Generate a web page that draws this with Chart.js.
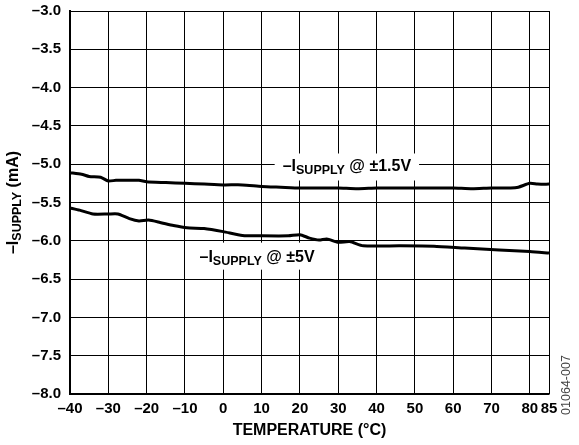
<!DOCTYPE html>
<html>
<head>
<meta charset="utf-8">
<script src="https://cdn.jsdelivr.net/npm/chart.js@4.4.0/dist/chart.umd.min.js"></script>
<style>
  body { margin: 0; background: #fff; }
  #wrap { width: 579px; height: 445px; position: relative; }
</style>
</head>
<body>
<div id="wrap"><canvas id="myChart"></canvas></div>
<script>
// temperatures (°C) and supply current (mA)
var temps15 = [-40, -37, -35, -32, -30, -28, -25, -22, -20, -15, -10, -5, 0, 5, 10, 15, 20, 25, 30, 35, 40, 45, 50, 55, 60, 65, 70, 75, 77, 80, 82, 85];
var isupply15 = [-5.11, -5.13, -5.16, -5.17, -5.22, -5.21, -5.21, -5.21, -5.23, -5.24, -5.25, -5.26, -5.27, -5.27, -5.29, -5.30, -5.31, -5.31, -5.31, -5.32, -5.31, -5.31, -5.31, -5.31, -5.31, -5.32, -5.31, -5.31, -5.30, -5.25, -5.26, -5.26];

var temps5 = [-40, -37.5, -34, -30, -27.5, -24.5, -22, -19.5, -16.5, -13, -9.5, -5, 0, 5, 10, 17, 20, 22.5, 25, 27, 30, 33, 36.5, 46, 55, 63, 72, 80, 85];
var isupply5 = [-5.57, -5.60, -5.65, -5.65, -5.65, -5.71, -5.74, -5.73, -5.76, -5.80, -5.83, -5.84, -5.88, -5.93, -5.935, -5.935, -5.92, -5.965, -5.99, -5.975, -6.02, -6.01, -6.065, -6.065, -6.07, -6.095, -6.12, -6.14, -6.16];

var xTicks = [-40, -30, -20, -10, 0, 10, 20, 30, 40, 50, 60, 70, 80, 85];
var yTicks = [-8.0, -7.5, -7.0, -6.5, -6.0, -5.5, -5.0, -4.5, -4.0, -3.5, -3.0];

var FONT = '"Liberation Sans", Arial, Helvetica, sans-serif';

function pts(xs, ys) {
    return xs.map(function (x, i) { return { x: x, y: ys[i] }; });
}

// draws text made of parts, some of them as subscript
function drawParts(ctx, parts, x, y) {
    parts.forEach(function (p) {
        ctx.font = p.sub ? 'bold 12.5px ' + FONT : 'bold 16px ' + FONT;
        ctx.fillText(p.t, x, y + (p.sub ? 4 : 0));
        x += ctx.measureText(p.t).width;
    });
}
function partsWidth(ctx, parts) {
    var w = 0;
    parts.forEach(function (p) {
        ctx.font = p.sub ? 'bold 12.5px ' + FONT : 'bold 16px ' + FONT;
        w += ctx.measureText(p.t).width;
    });
    return w;
}

var labels = [
    { x: 15.5, y: -5.03, box: [-8, -13, 8, 14], parts: [{ t: '–I' }, { t: 'SUPPLY', sub: true }, { t: ' @ ±1.5V' }] },
    { x: -6.2, y: -6.22, box: [-7, -15, 6, 12], parts: [{ t: '–I' }, { t: 'SUPPLY', sub: true }, { t: ' @ ±5V' }] }
];

var textPlugin = {
    id: 'texts',
    afterDraw: function (chart) {
        var ctx = chart.ctx;
        var xs = chart.scales.x, ys = chart.scales.y;
        ctx.save();
        ctx.textBaseline = 'middle';
        ctx.textAlign = 'left';
        labels.forEach(function (l) {
            var px = xs.getPixelForValue(l.x);
            var py = ys.getPixelForValue(l.y);
            var w = partsWidth(ctx, l.parts);
            ctx.fillStyle = '#fff';
            ctx.fillRect(px + l.box[0], py + l.box[1], w - l.box[0] + l.box[2], l.box[3] - l.box[1]);
            ctx.fillStyle = '#000';
            drawParts(ctx, l.parts, px, py);
        });

        // y axis title
        var yt = [{ t: '–I' }, { t: 'SUPPLY', sub: true }, { t: ' (mA)' }];
        ctx.translate(14, 202.5);
        ctx.rotate(-Math.PI / 2);
        ctx.fillStyle = '#000';
        drawParts(ctx, yt, -partsWidth(ctx, yt) / 2, 0);
        ctx.restore();

        // figure number
        ctx.save();
        ctx.translate(567, 385);
        ctx.rotate(-Math.PI / 2);
        ctx.font = '12.5px ' + FONT;
        ctx.fillStyle = '#444';
        ctx.textAlign = 'center';
        ctx.textBaseline = 'middle';
        ctx.fillText('01064-007', 0, 0);
        ctx.restore();
    }
};

var ctx = document.getElementById('myChart').getContext('2d');
var chart = new Chart(ctx, {
    type: 'line',
    data: {
        datasets: [{
            data: pts(temps15, isupply15),
            borderColor: '#000',
            borderWidth: 3,
            pointRadius: 0,
            tension: 0.2
        }, {
            data: pts(temps5, isupply5),
            borderColor: '#000',
            borderWidth: 3,
            pointRadius: 0,
            tension: 0.2
        }]
    },
    options: {
        responsive: true,
        maintainAspectRatio: false,
        animation: false,
        layout: { padding: { top: 11, right: 30, left: 0, bottom: 0 } },
        plugins: { legend: { display: false }, tooltip: { enabled: false } },
        scales: {
            x: {
                type: 'linear',
                min: -40,
                max: 85,
                afterBuildTicks: function (s) { s.ticks = xTicks.map(function (v) { return { value: v }; }); },
                afterFit: function (s) { s.height = 51; s.paddingLeft = 0; s.paddingRight = 0; },
                ticks: {
                    autoSkip: false,
                    maxRotation: 0,
                    color: '#000',
                    padding: 6,
                    font: { family: FONT, size: 15, weight: 'bold' },
                    callback: function (v) { return v < 0 ? '–' + Math.abs(v) : '' + v; }
                },
                grid: { color: '#000', lineWidth: 1, drawTicks: false },
                border: { color: '#000', width: 1.5 },
                title: {
                    display: true,
                    text: 'TEMPERATURE (°C)',
                    color: '#000',
                    font: { family: FONT, size: 16, weight: 'bold' },
                    padding: { top: 0, bottom: 5 }
                }
            },
            y: {
                min: -8,
                max: -3,
                afterBuildTicks: function (s) { s.ticks = yTicks.map(function (v) { return { value: v }; }); },
                afterFit: function (s) { s.width = 70; s.paddingTop = 0; s.paddingBottom = 0; },
                ticks: {
                    color: '#000',
                    padding: 9,
                    font: { family: FONT, size: 15, weight: 'bold' },
                    callback: function (v) { return '–' + Math.abs(v).toFixed(1); }
                },
                grid: { color: '#000', lineWidth: 1, drawTicks: false },
                border: { color: '#000', width: 2 }
            }
        }
    },
    plugins: [textPlugin]
});
</script>
</body>
</html>
